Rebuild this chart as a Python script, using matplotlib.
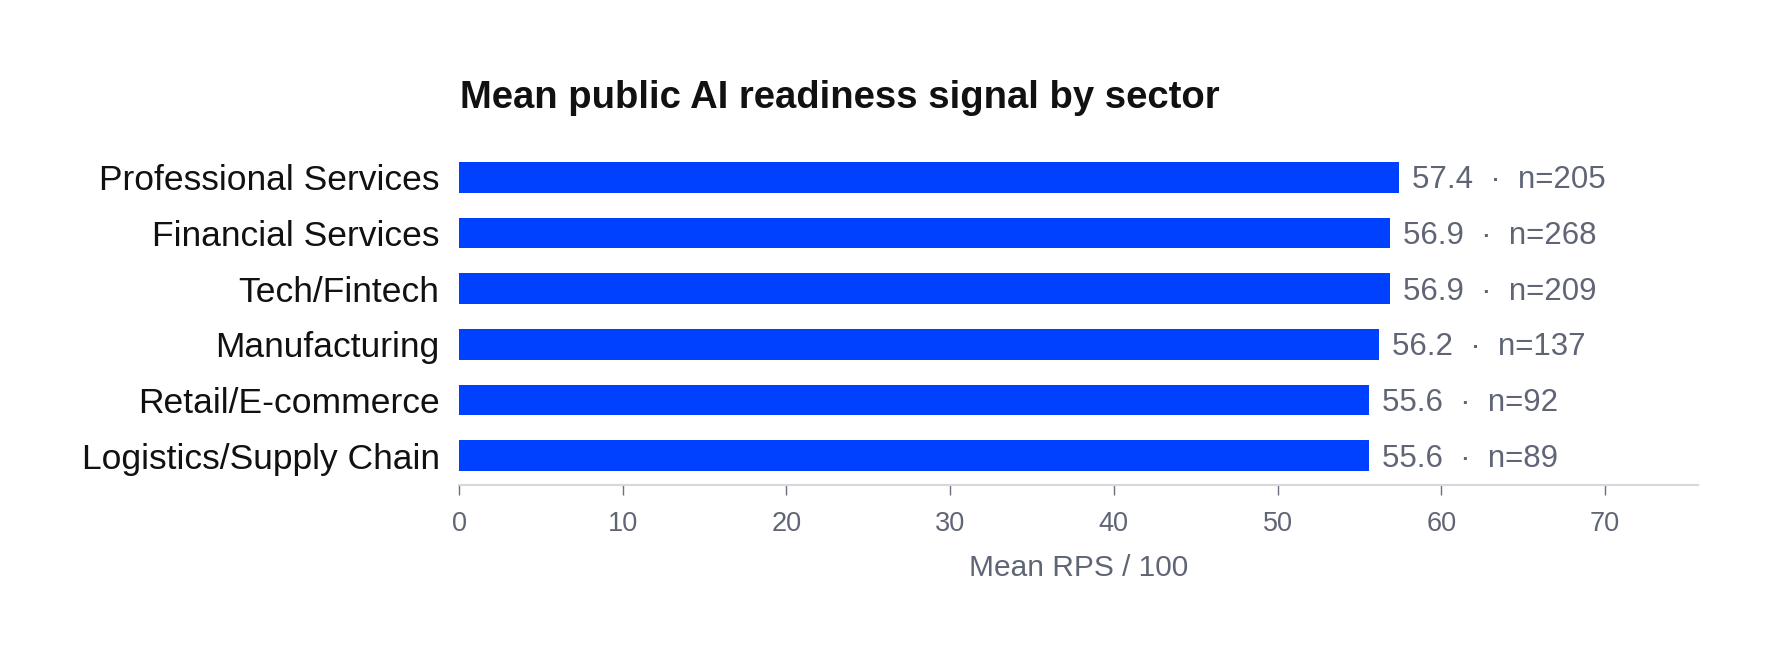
import matplotlib
matplotlib.use("Agg")
import matplotlib.pyplot as plt

plt.rcParams["font.family"] = ["Liberation Sans", "DejaVu Sans"]

# data
sectors = ["Professional Services", "Financial Services", "Tech/Fintech",
           "Manufacturing", "Retail/E-commerce", "Logistics/Supply Chain"]
mean_rps = [57.4, 56.9, 56.9, 56.2, 55.6, 55.6]
counts = [205, 268, 209, 137, 92, 89]
xticks = [0, 10, 20, 30, 40, 50, 60, 70]

blue = "#0040ff"
grey = "#5f6575"

fig = plt.figure(figsize=(17.69, 6.54), dpi=100)
ax = fig.add_axes([0.2595, 0.2584, 0.7005, 0.5153])

ypos = list(range(len(sectors)))
ax.barh(ypos, mean_rps, height=0.55, color=blue)

for y, v, n in zip(ypos, mean_rps, counts):
    ax.annotate(f"{v:.1f}  \u00b7  n={n}", (v, y), xytext=(13, -3),
                textcoords="offset pixels", va="center", ha="left",
                fontsize=22.5, color=grey)

ax.set_ylim(len(sectors) - 0.47, -0.53)
ax.set_xlim(0, 75.7)
ax.set_yticks(ypos)
ax.set_yticklabels(sectors, fontsize=25.5, color="#111111")
ax.tick_params(axis="y", length=0, pad=14)
ax.set_xticks(xticks)
ax.tick_params(axis="x", length=7, width=1, color="#6b7080",
               labelsize=19.5, labelcolor=grey, pad=12)

for side in ["top", "right", "left"]:
    ax.spines[side].set_visible(False)
ax.spines["bottom"].set_color("#d6d8de")
ax.spines["bottom"].set_linewidth(1.5)

ax.set_xlabel("Mean RPS / 100", fontsize=21.5, color=grey, labelpad=12)
fig.text(0.26, 0.85, "Mean public AI readiness signal by sector",
         fontsize=27.5, fontweight="bold", color="#111111", va="center", ha="left")

fig.savefig("out.png", dpi=100, facecolor="white")
